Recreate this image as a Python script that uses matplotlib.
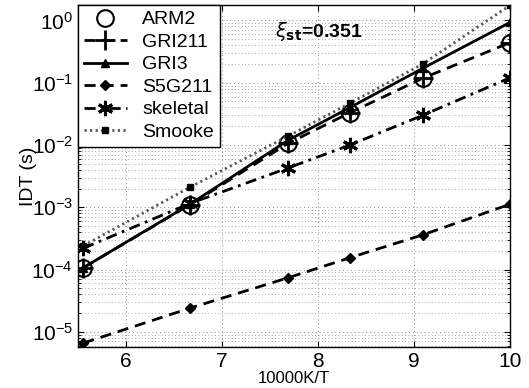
import matplotlib
matplotlib.use("Agg")
import matplotlib.pyplot as plt
from matplotlib.ticker import LogLocator, NullFormatter

plt.rcParams['font.family'] = ['Liberation Sans', 'DejaVu Sans']

x = [10000/1800, 10000/1500, 10000/1300, 10000/1200, 10000/1100, 10000/1000]
arm2 = [1.07e-4, 1.1e-3, 1.07e-2, 3.3e-2, 0.118, 0.44]
gri211 = [1.07e-4, 1.1e-3, 1.07e-2, 3.3e-2, 0.118, 0.44]
gri3 = [1.07e-4, 1.12e-3, 1.2e-2, 4.0e-2, 0.17, 0.93]
s5g211 = [6.6e-6, 2.4e-5, 7.4e-5, 1.55e-4, 3.6e-4, 1.12e-3]
skeletal = [2.2e-4, 1.15e-3, 4.3e-3, 1.0e-2, 3.0e-2, 0.12]
smooke = [2.4e-4, 2.1e-3, 1.4e-2, 4.7e-2, 0.2, 1.75]
series_labels = ['ARM2', 'GRI211', 'GRI3', 'S5G211', 'skeletal', 'Smooke']
xticks = [6, 7, 8, 9, 10]

fig = plt.figure(figsize=(5.29, 3.88), dpi=100)
ax = fig.add_axes([78/529, 1-347/388, (510-78)/529, (347-5)/388])

lw = 2.0
ax.plot(x, arm2, linestyle='none', marker='o', markersize=12, markerfacecolor='none',
        markeredgecolor='k', markeredgewidth=1.5, label=series_labels[0])
ax.plot(x, gri211, color='k', linestyle=(0, (4, 2.5)), linewidth=lw, marker='+', markersize=14,
        markeredgewidth=2, label=series_labels[1])
ax.plot(x, gri3, color='k', linestyle='-', linewidth=lw, marker='^', markersize=6,
        label=series_labels[2])
ax.plot(x, s5g211, color='k', linestyle=(0, (4, 2.5)), linewidth=lw, marker='D', markersize=5,
        label=series_labels[3])
ax.plot(x, skeletal, color='k', linestyle=(0, (4, 2, 1, 2)), linewidth=lw, marker=(6, 2, 0),
        markersize=11, markeredgewidth=2.2, label=series_labels[4])
ax.plot(x, smooke, color='0.35', linestyle=(0, (0.8, 1.2)), linewidth=lw, marker='s', markersize=5,
        markerfacecolor='k', markeredgecolor='k', label=series_labels[5])

ax.set_yscale('log')
ax.set_xlim(5.5, 10)
ax.set_ylim(5.7e-6, 1.77)
ax.set_xticks(xticks)
ax.yaxis.set_major_locator(LogLocator(base=10, numticks=10))
ax.yaxis.set_minor_locator(LogLocator(base=10, subs=range(2, 10), numticks=20))
ax.yaxis.set_minor_formatter(NullFormatter())

ax.grid(True, which='major', axis='both', color='0.55', linestyle=(0, (1, 3)), linewidth=0.7)
ax.grid(True, which='minor', axis='y', color='0.55', linestyle=(0, (1, 3)), linewidth=0.6)
ax.tick_params(axis='both', which='major', labelsize=15, direction='in', length=4,
               top=True, right=True)
ax.tick_params(axis='y', which='minor', direction='in', length=2, right=True)
for s in ax.spines.values():
    s.set_linewidth(1.0)

ax.set_ylabel('IDT (s)', fontsize=14, labelpad=-4)
ax.set_xlabel('10000K/T', fontsize=12, labelpad=0)

ax.text(0.455, 0.955, r'$\xi_{\mathbf{st}}$=0.351', transform=ax.transAxes, fontsize=14,
        fontweight='bold', va='top', ha='left')

leg = ax.legend(loc='upper left', fontsize=14, frameon=True, fancybox=False, edgecolor='k',
                framealpha=1, borderaxespad=0, handlelength=2.2, handletextpad=0.8,
                labelspacing=0.25, borderpad=0.3)
leg.get_frame().set_linewidth(1.0)

fig.savefig('out.png', dpi=100)
